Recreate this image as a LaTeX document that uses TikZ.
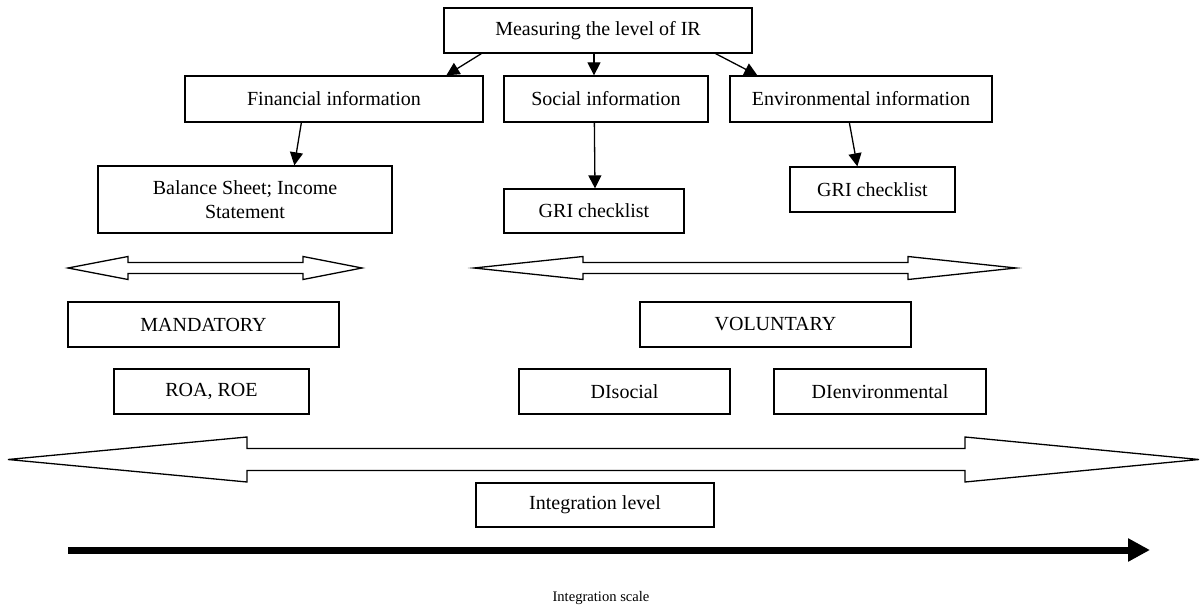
\documentclass[tikz,border=0pt]{standalone}
\usepackage{fontspec}
\setmainfont{Liberation Serif}
\usetikzlibrary{arrows.meta,calc}
\tikzset{
  box/.style={draw, line width=1.3pt, fill=white, inner sep=0pt, align=center,
    font=\fontsize{20}{24}\selectfont},
  conn/.style={line width=1.3pt, -{Triangle[length=13pt,width=13pt]}},
  blockarrow/.style={draw, line width=1.3pt, fill=white, line join=miter},
  scalearrow/.style={line width=7pt, -{Triangle[length=22pt,width=22pt]}}
}
\newcommand{\bx}[7]{\node[box, minimum width=#4pt, minimum height=#5pt] (#1) at (#2,#3) {#6};}
\begin{document}
\begin{tikzpicture}[x=1pt,y=-1pt]
\useasboundingbox (0,0) rectangle (1202,607);
% boxes
\node[box, minimum width=308pt, minimum height=45pt] (top) at (598,30.5) {Measuring the level of IR};
\node[box, minimum width=298pt, minimum height=46pt] (fin) at (334,99) {Financial information};
\node[box, minimum width=204pt, minimum height=46pt] (soc) at (606,99) {Social information};
\node[box, minimum width=262pt, minimum height=46pt] (env) at (861,99) {Environmental information};
\node[box, minimum width=294pt, minimum height=67pt] (bal) at (245,199.5) {Balance Sheet; Income\\Statement};
\node[box, minimum width=180pt, minimum height=44pt] (gri1) at (594,211) {GRI checklist};
\node[box, minimum width=165pt, minimum height=45pt] (gri2) at (872.5,189.5) {GRI checklist};
\node[box, minimum width=271pt, minimum height=45pt] (mand) at (203.5,324.5) {MANDATORY};
\node[box, minimum width=271pt, minimum height=45pt] (vol) at (775.5,324.5) {VOLUNTARY};
\node[box, minimum width=195pt, minimum height=45pt] (roa) at (211.5,391.5) {ROA, ROE};
\node[box, minimum width=211pt, minimum height=45pt] (dis) at (624.5,391.5) {DIsocial};
\node[box, minimum width=212pt, minimum height=45pt] (die) at (880,391.5) {DIenvironmental};
% connectors
\draw[conn] ([xshift=38pt]top.south west) -- ([xshift=262pt]fin.north west);
\draw[conn] ([xshift=-4pt]top.south) -- ([xshift=-12pt]soc.north);
\draw[conn] ([xshift=-37pt]top.south east) -- ([xshift=28pt]env.north west);
\draw[conn] ([xshift=117pt]fin.south west) -- ([xshift=197pt]bal.north west);
\draw[conn] ([xshift=91pt]soc.south west) -- ([xshift=1pt]gri1.north);
\draw[conn] ([xshift=120pt]env.south west) -- ([xshift=68pt]gri2.north west);
% block double arrows
\draw[blockarrow] (68,268) -- (128,256.5) -- (128,262.5) -- (303,262.5) -- (303,256.5) -- (362,268)
  -- (303,279.5) -- (303,273.5) -- (128,273.5) -- (128,279.5) -- cycle;
\draw[blockarrow] (474,268) -- (583,256.5) -- (583,262.5) -- (908,262.5) -- (908,256.5) -- (1016,268)
  -- (908,279.5) -- (908,273.5) -- (583,273.5) -- (583,279.5) -- cycle;
\draw[blockarrow] (8,459.5) -- (247,437) -- (247,448.5) -- (965,448.5) -- (965,437) -- (1199,459.5)
  -- (965,482) -- (965,470.5) -- (247,470.5) -- (247,482) -- cycle;
\node[box, minimum width=238pt, minimum height=44pt] (intl) at (595,505) {Integration level};
% integration scale
\coordinate (s1) at (68,550);
\coordinate (s2) at (1150,550);
\draw[scalearrow] (s1) -- (s2);
\node[font=\fontsize{14.6}{17}\selectfont, inner sep=0pt] (scale) at (601,598) {Integration scale};
\end{tikzpicture}
\end{document}
